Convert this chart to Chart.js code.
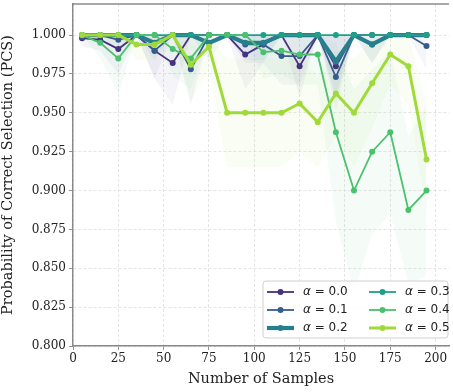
<!DOCTYPE html>
<html>
<head>
<meta charset="utf-8">
<script src="https://cdn.jsdelivr.net/npm/chart.js@4.4.0/dist/chart.umd.min.js"></script>
<style>
html, body { margin: 0; padding: 0; background: #fff; }
#wrap { width: 453px; height: 392px; }
</style>
</head>
<body>
<div id="wrap"><canvas id="pcsChart"></canvas></div>
<script>
// sample sizes on the x axis
var samples = [5, 15, 25, 35, 45, 55, 65, 75, 85, 95, 105, 115, 125, 135, 145, 155, 165, 175, 185, 195];
var alphaLabels = ['0.0', '0.1', '0.2', '0.3', '0.4', '0.5'];
var xTicks = [0, 25, 50, 75, 100, 125, 150, 175, 200];
var yTicks = [0.800, 0.825, 0.850, 0.875, 0.900, 0.925, 0.950, 0.975, 1.000];

// mean PCS per alpha
var pcsA0 = [0.998, 0.997, 0.991, 1.000, 0.990, 0.982, 1.000, 1.000, 1.000, 0.9875, 0.994, 1.000, 0.980, 1.000, 0.980, 1.000, 1.000, 1.000, 1.000, 1.000];
var pcsA1 = [0.999, 1.000, 0.997, 1.000, 0.990, 1.000, 0.978, 1.000, 1.000, 0.994, 0.994, 0.9865, 0.9865, 1.000, 0.973, 1.000, 0.994, 1.000, 1.000, 0.993];
var pcsA2 = [1.000, 1.000, 1.000, 1.000, 0.995, 1.000, 1.000, 0.995, 1.000, 0.995, 0.995, 1.000, 1.000, 1.000, 0.983, 1.000, 0.994, 1.000, 1.000, 1.000];
var pcsA3 = [1.000, 1.000, 1.000, 1.000, 1.000, 1.000, 1.000, 1.000, 1.000, 1.000, 1.000, 1.000, 1.000, 1.000, 1.000, 1.000, 1.000, 1.000, 1.000, 1.000];
var pcsA4 = [1.000, 0.995, 0.985, 1.000, 1.000, 0.991, 0.985, 1.000, 1.000, 1.000, 0.989, 0.990, 0.9875, 0.9875, 0.9375, 0.900, 0.925, 0.9375, 0.8875, 0.900];
var pcsA5 = [1.000, 1.000, 1.000, 0.994, 0.994, 1.000, 0.981, 0.9925, 0.950, 0.950, 0.950, 0.950, 0.956, 0.944, 0.9625, 0.950, 0.969, 0.9875, 0.980, 0.920];

// shaded band (lower / upper) per alpha
var loA0 = [0.993, 0.990, 0.975, 1.000, 0.972, 0.955, 1.000, 1.000, 1.000, 0.965, 0.982, 1.000, 0.960, 1.000, 0.958, 1.000, 1.000, 1.000, 1.000, 1.000];
var loA1 = [0.996, 1.000, 0.990, 1.000, 0.972, 1.000, 0.955, 1.000, 1.000, 0.982, 0.982, 0.968, 0.968, 1.000, 0.952, 1.000, 0.982, 1.000, 1.000, 0.978];
var loA2 = [1.000, 1.000, 1.000, 1.000, 0.984, 1.000, 1.000, 0.984, 1.000, 0.984, 0.984, 1.000, 1.000, 1.000, 0.962, 1.000, 0.982, 1.000, 1.000, 1.000];
var loA3 = [1.000, 1.000, 1.000, 1.000, 1.000, 1.000, 1.000, 1.000, 1.000, 1.000, 1.000, 1.000, 1.000, 1.000, 1.000, 1.000, 1.000, 1.000, 1.000, 1.000];
var loA4 = [1.000, 0.985, 0.962, 1.000, 1.000, 0.974, 0.965, 1.000, 1.000, 1.000, 0.972, 0.975, 0.968, 0.968, 0.880, 0.835, 0.872, 0.885, 0.840, 0.845];
var loA5 = [1.000, 1.000, 1.000, 0.984, 0.984, 1.000, 0.958, 0.978, 0.915, 0.915, 0.915, 0.915, 0.925, 0.915, 0.935, 0.915, 0.940, 0.968, 0.955, 0.885];
var hiTop = [1.000, 1.000, 1.000, 1.000, 1.000, 1.000, 1.000, 1.000, 1.000, 1.000, 1.000, 1.000, 1.000, 1.000, 1.000, 1.000, 1.000, 1.000, 1.000, 1.000];
var hiA4 = [1.000, 1.000, 1.000, 1.000, 1.000, 1.000, 1.000, 1.000, 1.000, 1.000, 1.000, 1.000, 1.000, 1.000, 0.995, 0.965, 0.978, 0.990, 0.935, 0.955];
var hiA5 = [1.000, 1.000, 1.000, 1.000, 1.000, 1.000, 1.000, 1.000, 0.985, 0.985, 0.985, 0.985, 0.987, 0.973, 0.990, 0.985, 0.998, 1.000, 1.000, 0.955];

var means = [pcsA0, pcsA1, pcsA2, pcsA3, pcsA4, pcsA5];
var lows = [loA0, loA1, loA2, loA3, loA4, loA5];
var highs = [hiTop, hiTop, hiTop, hiTop, hiA4, hiA5];

var colors = ['#46327e', '#365c8d', '#277f8e', '#1fa187', '#4ac16d', '#a0da39'];
var widths = [1.8, 1.8, 4.2, 1.8, 1.8, 3];

function toPoints(arr) {
    return samples.map(function(x, i) { return {x: x, y: arr[i]}; });
}
function fade(hex, a) {
    var n = parseInt(hex.slice(1), 16);
    return 'rgba(' + (n >> 16) + ',' + ((n >> 8) & 255) + ',' + (n & 255) + ',' + a + ')';
}

var datasets = [];
for (var s = 0; s < 6; s++) {
    datasets.push({
        data: toPoints(highs[s]), borderWidth: 0, borderColor: 'transparent',
        pointRadius: 0, fill: false, order: 20 + s
    });
    datasets.push({
        data: toPoints(lows[s]), borderWidth: 0, borderColor: 'transparent',
        pointRadius: 0, fill: 2 * s, backgroundColor: fade(colors[s], 0.055), order: 20 + s
    });
}
for (var s = 0; s < 6; s++) {
    datasets.push({
        label: alphaLabels[s],
        data: toPoints(means[s]),
        borderColor: colors[s],
        backgroundColor: colors[s],
        borderWidth: widths[s],
        pointRadius: 3,
        pointBorderWidth: 0,
        fill: false,
        order: 6 - s
    });
}

var legendPlugin = {
    id: 'insideLegend',
    afterDraw: function(chart) {
        var ctx = chart.ctx, area = chart.chartArea;
        var bx = 263, by = area.bottom - 65, bw = area.right - 1 - bx, bh = 57;
        ctx.save();
        ctx.beginPath();
        ctx.roundRect(bx, by, bw, bh, 3);
        ctx.fillStyle = 'rgba(255,255,255,0.85)';
        ctx.fill();
        ctx.strokeStyle = '#d0d0d0';
        ctx.lineWidth = 1;
        ctx.stroke();
        for (var i = 0; i < 6; i++) {
            var col = Math.floor(i / 3), row = i % 3;
            var x0 = bx + 4 + col * 102, y0 = by + 11 + row * 18;
            ctx.strokeStyle = colors[i];
            ctx.lineWidth = widths[i];
            ctx.beginPath();
            ctx.moveTo(x0, y0);
            ctx.lineTo(x0 + 27, y0);
            ctx.stroke();
            ctx.fillStyle = colors[i];
            ctx.beginPath();
            ctx.arc(x0 + 13.5, y0, 3, 0, Math.PI * 2);
            ctx.fill();
            ctx.fillStyle = '#222';
            ctx.textBaseline = 'middle';
            ctx.font = 'italic 12px "DejaVu Sans"';
            ctx.fillText('\u03b1', x0 + 36, y0);
            var w = ctx.measureText('\u03b1').width;
            ctx.font = '12px "DejaVu Sans"';
            ctx.fillText(' = ' + alphaLabels[i], x0 + 36 + w, y0);
        }
        ctx.restore();
    }
};

var topLine = {
    id: 'topLine',
    afterDraw: function(chart) {
        var ctx = chart.ctx, area = chart.chartArea;
        ctx.save();
        ctx.strokeStyle = '#555';
        ctx.lineWidth = 1.2;
        ctx.beginPath();
        ctx.moveTo(area.left, area.top);
        ctx.lineTo(area.right, area.top);
        ctx.stroke();
        ctx.restore();
    }
};

var tickFont = {family: '"DejaVu Serif"', size: 12};
var titleFont = {family: '"DejaVu Serif"', size: 14.5};

new Chart(document.getElementById('pcsChart').getContext('2d'), {
    type: 'line',
    data: {datasets: datasets},
    options: {
        responsive: true,
        maintainAspectRatio: false,
        animation: false,
        layout: {padding: {top: 4, right: 0, left: 0, bottom: 0}},
        plugins: {
            legend: {display: false},
            tooltip: {enabled: false}
        },
        scales: {
            x: {
                type: 'linear',
                min: 0,
                max: 207.4,
                afterBuildTicks: function(scale) {
                    scale.ticks = xTicks.map(function(v) { return {value: v}; });
                },
                afterFit: function(scale) {
                    scale.height = 46;
                    scale.paddingLeft = 0;
                    scale.paddingRight = 0;
                },
                ticks: {font: tickFont, color: '#222', padding: 2, maxRotation: 0,
                    callback: function(v) { return v; }},
                grid: {color: '#dedede', tickColor: '#777', tickLength: 4, tickBorderDash: [], lineWidth: 0.8},
                border: {color: '#888', width: 1.4, dash: [3, 2]},
                title: {display: true, text: 'Number of Samples', font: titleFont, color: '#222', padding: {top: 1, bottom: 4}}
            },
            y: {
                min: 0.8,
                max: 1.02,
                afterBuildTicks: function(scale) {
                    scale.ticks = yTicks.map(function(v) { return {value: v}; });
                },
                afterFit: function(scale) {
                    scale.width = 73;
                    scale.paddingTop = 0;
                    scale.paddingBottom = 0;
                },
                ticks: {font: tickFont, color: '#222', padding: 3,
                    callback: function(v) { return Number(v).toFixed(3); }},
                grid: {color: '#dedede', tickColor: '#777', tickLength: 4, tickBorderDash: [], lineWidth: 0.8},
                border: {color: '#888', width: 1.4, dash: [3, 2]},
                title: {display: true, text: 'Probability of Correct Selection (PCS)', font: titleFont, color: '#222', padding: {top: 0, bottom: 2}}
            }
        }
    },
    plugins: [legendPlugin, topLine]
});
</script>
</body>
</html>
